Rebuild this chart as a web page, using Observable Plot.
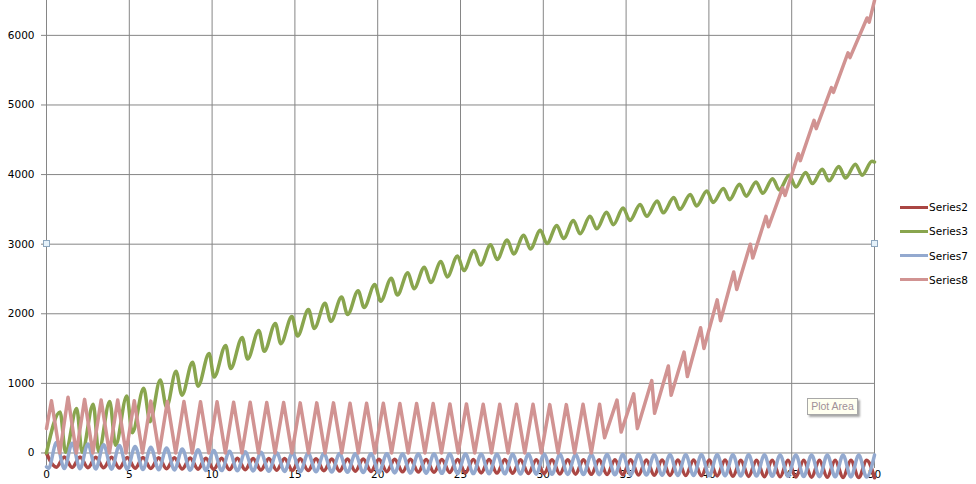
<!DOCTYPE html>
<html><head><meta charset="utf-8">
<script src="https://cdn.jsdelivr.net/npm/d3@7"></script>
<script src="https://cdn.jsdelivr.net/npm/@observablehq/plot@0.6"></script>
<style>
body{margin:0;background:#fff;}
#wrap{position:relative;width:976px;height:484px;overflow:hidden;font-family:"DejaVu Sans",sans-serif;}
#wrap svg{display:block;position:absolute;left:0;top:0;}
.legrow{position:absolute;left:900px;height:14px;display:flex;align-items:center;font-size:10.5px;color:#000;white-space:nowrap;}
.legrow .sw{display:inline-block;width:28px;height:3px;margin-right:1px;}
.handle{position:absolute;width:5px;height:5px;border:1px solid #8fa8bf;background:#e6f2fa;}
.tip{position:absolute;left:807px;top:398px;width:49px;height:15px;border:1px solid #a8a8a8;background:#fffff0;box-shadow:2px 2px 2px rgba(0,0,0,0.35);font-family:"Liberation Sans",sans-serif;font-size:10.5px;color:#a09098;line-height:15px;text-align:center;}
</style></head>
<body><div id="wrap"></div>
<script>
const xTicks = [0,5,10,15,20,25,30,35,40,45,50];
const yTicks = [0,1000,2000,3000,4000,5000,6000];
const seriesNames = ["Series2","Series3","Series7","Series8"];

// shared x positions (extrema) for Series2 and Series7
const xSeries2and7 = [0,0.125,0.6,1.075,1.55,2.025,2.5,2.975,3.45,3.925,4.4,4.875,5.35,5.825,6.3,6.775,7.25,7.725,8.2,8.675,9.15,9.625,10.1,10.575,11.05,11.525,12,12.475,12.95,13.425,13.9,14.375,14.85,15.325,15.8,16.275,16.75,17.225,17.7,18.175,18.65,19.125,19.6,20.075,20.55,21.025,21.5,21.975,22.45,22.925,23.4,23.875,24.35,24.825,25.3,25.775,26.25,26.725,27.2,27.675,28.15,28.625,29.1,29.575,30.05,30.525,31,31.475,31.95,32.425,32.9,33.375,33.85,34.325,34.8,35.275,35.75,36.225,36.7,37.175,37.65,38.125,38.6,39.075,39.55,40.025,40.5,40.975,41.45,41.925,42.4,42.875,43.35,43.825,44.3,44.775,45.25,45.725,46.2,46.675,47.15,47.625,48.1,48.575,49.05,49.525,50];

const series2 = [0,-70,-205,-56,-208,-58,-211,-60,-214,-62,-217,-64,-220,-66,-223,-68,-226,-70,-229,-72,-232,-74,-235,-76,-238,-77,-241,-78,-244,-80,-247,-81,-250,-82,-253,-84,-256,-85,-259,-86,-262,-88,-265,-89,-268,-90,-271,-91,-274,-92,-277,-92,-280,-93,-283,-94,-286,-94,-289,-95,-292,-96,-295,-96,-298,-97,-301,-97,-304,-98,-307,-98,-310,-99,-313,-99,-316,-100,-319,-100,-322,-101,-325,-101,-328,-102,-331,-102,-334,-103,-337,-103,-340,-103,-343,-104,-346,-104,-348,-104,-350,-105,-352,-105,-354,-105,-356];

const series7 = [-200,-222,150,-224,140,-226,130,-229,118,-232,106,-235,94,-238,82,-241,70,-244,58,-247,47,-250,36,-253,26,-256,17,-259,9,-262,3,-265,-2,-268,-5,-271,-7,-274,-9,-277,-10,-280,-11,-283,-12,-286,-13,-288,-14,-290,-15,-292,-15,-294,-16,-296,-17,-298,-17,-300,-18,-302,-19,-304,-19,-306,-20,-308,-21,-310,-21,-312,-22,-314,-23,-316,-23,-318,-24,-320,-24,-322,-25,-324,-25,-326,-26,-328,-26,-330,-27,-332,-27,-334,-28,-336,-28,-338,-29,-340,-29,-342,-30,-344,-30,-346,-30];

// Series3: [x, value] at peaks and troughs
const series3 = [[0,0],[0.82,590],[1.15,10],[1.82,640],[2.15,10],[2.82,700],[3.15,20],[3.82,740],[4.17,110],[4.85,820],[5.18,290],[5.87,930],[6.25,450],[6.87,1050],[7.25,660],[7.82,1175],[8.18,830],[8.82,1305],[9.15,960],[9.82,1430],[10.12,1090],[10.82,1545],[11.12,1215],[11.82,1660],[12.14,1350],[12.82,1760],[13.15,1460],[13.82,1860],[14.15,1570],[14.82,1960],[15.16,1680],[15.82,2060],[16.17,1790],[16.82,2150],[17.17,1890],[17.82,2240],[18.18,1990],[18.82,2330],[19.18,2090],[19.82,2420],[20.18,2180],[20.82,2510],[21.19,2270],[21.82,2590],[22.19,2360],[22.82,2670],[23.2,2450],[23.82,2750],[24.2,2530],[24.82,2830],[25.2,2620],[25.82,2910],[26.21,2700],[26.82,2990],[27.21,2780],[27.82,3060],[28.21,2860],[28.82,3130],[29.22,2930],[29.82,3200],[30.22,3010],[30.82,3270],[31.22,3080],[31.82,3340],[32.22,3150],[32.82,3400],[33.23,3220],[33.82,3460],[34.23,3280],[34.82,3520],[35.23,3340],[35.85,3570],[36.24,3400],[36.88,3620],[37.24,3450],[37.88,3670],[38.24,3500],[38.88,3715],[39.25,3550],[39.88,3765],[40.25,3600],[40.88,3800],[41.25,3640],[41.85,3860],[42.25,3690],[42.85,3895],[43.25,3730],[43.85,3940],[44.25,3780],[44.85,3990],[45.25,3820],[45.85,4030],[46.25,3870],[46.85,4075],[47.25,3910],[47.85,4115],[48.25,3950],[48.85,4150],[49.25,3990],[49.85,4190],[50,4180]];

// Series8: [x, value] at peaks and troughs
const series8 = [[0,350],[0.3,750],[0.8,0],[1.3,800],[1.8,0],[2.3,770],[2.8,0],[3.3,760],[3.8,0],[4.3,760],[4.8,0],[5.3,750],[5.8,0],[6.3,745],[6.8,0],[7.3,740],[7.8,0],[8.3,740],[8.8,0],[9.3,735],[9.8,0],[10.3,735],[10.8,0],[11.3,730],[11.8,0],[12.3,730],[12.8,0],[13.3,725],[13.8,0],[14.32,725],[14.82,0],[15.32,720],[15.82,0],[16.32,720],[16.82,0],[17.33,720],[17.83,0],[18.33,715],[18.83,0],[19.33,715],[19.83,0],[20.34,715],[20.84,0],[21.34,710],[21.84,0],[22.35,710],[22.85,0],[23.35,710],[23.85,0],[24.36,705],[24.86,0],[25.36,705],[25.86,0],[26.37,700],[26.87,0],[27.37,700],[27.87,0],[28.38,700],[28.88,0],[29.38,700],[29.88,0],[30.39,695],[30.89,0],[31.39,695],[31.89,0],[32.4,700],[32.9,0],[33.4,700],[33.7,220],[34.45,760],[34.7,300],[35.46,850],[35.68,350],[36.55,1040],[36.72,570],[37.55,1250],[37.72,830],[38.5,1450],[38.7,1100],[39.5,1800],[39.7,1500],[40.5,2200],[40.7,1900],[41.5,2600],[41.68,2350],[42.5,3000],[42.65,2800],[43.45,3400],[43.6,3250],[44.45,3810],[44.6,3700],[45.4,4300],[45.52,4200],[46.35,4780],[46.48,4660],[47.4,5250],[47.52,5180],[48.4,5750],[48.52,5680],[49.55,6250],[49.68,6190],[50,6500]];

const colors = {Series2:"#AA4643", Series3:"#89A54E", Series7:"#93A9CF", Series8:"#D19392"};

const rows = [];
xSeries2and7.forEach((x,i)=>rows.push({series:"Series2", x, y: series2[i]}));
series3.forEach(([x,y])=>rows.push({series:"Series3", x, y}));
xSeries2and7.forEach((x,i)=>rows.push({series:"Series7", x, y: series7[i]}));
series8.forEach(([x,y])=>rows.push({series:"Series8", x, y}));

const chart = Plot.plot({
  width: 976, height: 484,
  marginLeft: 46, marginRight: 102, marginTop: 0, marginBottom: 16,
  x: {domain: [0, 50], label: null},
  y: {domain: [-223, 6501], label: null},
  style: {fontFamily: "DejaVu Sans", fontSize: "10.5px", background: "transparent", overflow: "visible", color: "#000"},
  marks: [
    Plot.gridX(xTicks, {stroke: "#868686", strokeOpacity: 1}),
    Plot.gridY(yTicks, {stroke: "#868686", strokeOpacity: 1}),
    Plot.axisY(yTicks, {tickSize: 5, tickPadding: 7, stroke: "#868686", fill: "#000", tickFormat: d => String(d), label: null}),
    Plot.axisX(xTicks, {tickSize: 0, tickPadding: 2, fill: "#000", tickFormat: d => String(d), label: null}),
    ...seriesNames.map(name => Plot.line(rows.filter(d => d.series === name), {
      x: "x", y: "y", stroke: colors[name], strokeWidth: 3.5,
      curve: name === "Series8" ? "linear" : "monotone-x",
      strokeLinejoin: "round", strokeLinecap: "round"
    }))
  ]
});
const wrap = document.getElementById("wrap");
wrap.appendChild(chart);

seriesNames.forEach((name, i) => {
  const row = document.createElement("div");
  row.className = "legrow";
  row.style.top = (200 + i * 24.3) + "px";
  row.innerHTML = `<span class="sw" style="background:${colors[name]}"></span><span>${name}</span>`;
  wrap.appendChild(row);
});
[[43, 240], [871, 240]].forEach(([l, t]) => {
  const h = document.createElement("div");
  h.className = "handle";
  h.style.left = l + "px"; h.style.top = t + "px";
  wrap.appendChild(h);
});
const tip = document.createElement("div");
tip.className = "tip";
tip.textContent = "Plot Area";
wrap.appendChild(tip);
</script></body></html>
